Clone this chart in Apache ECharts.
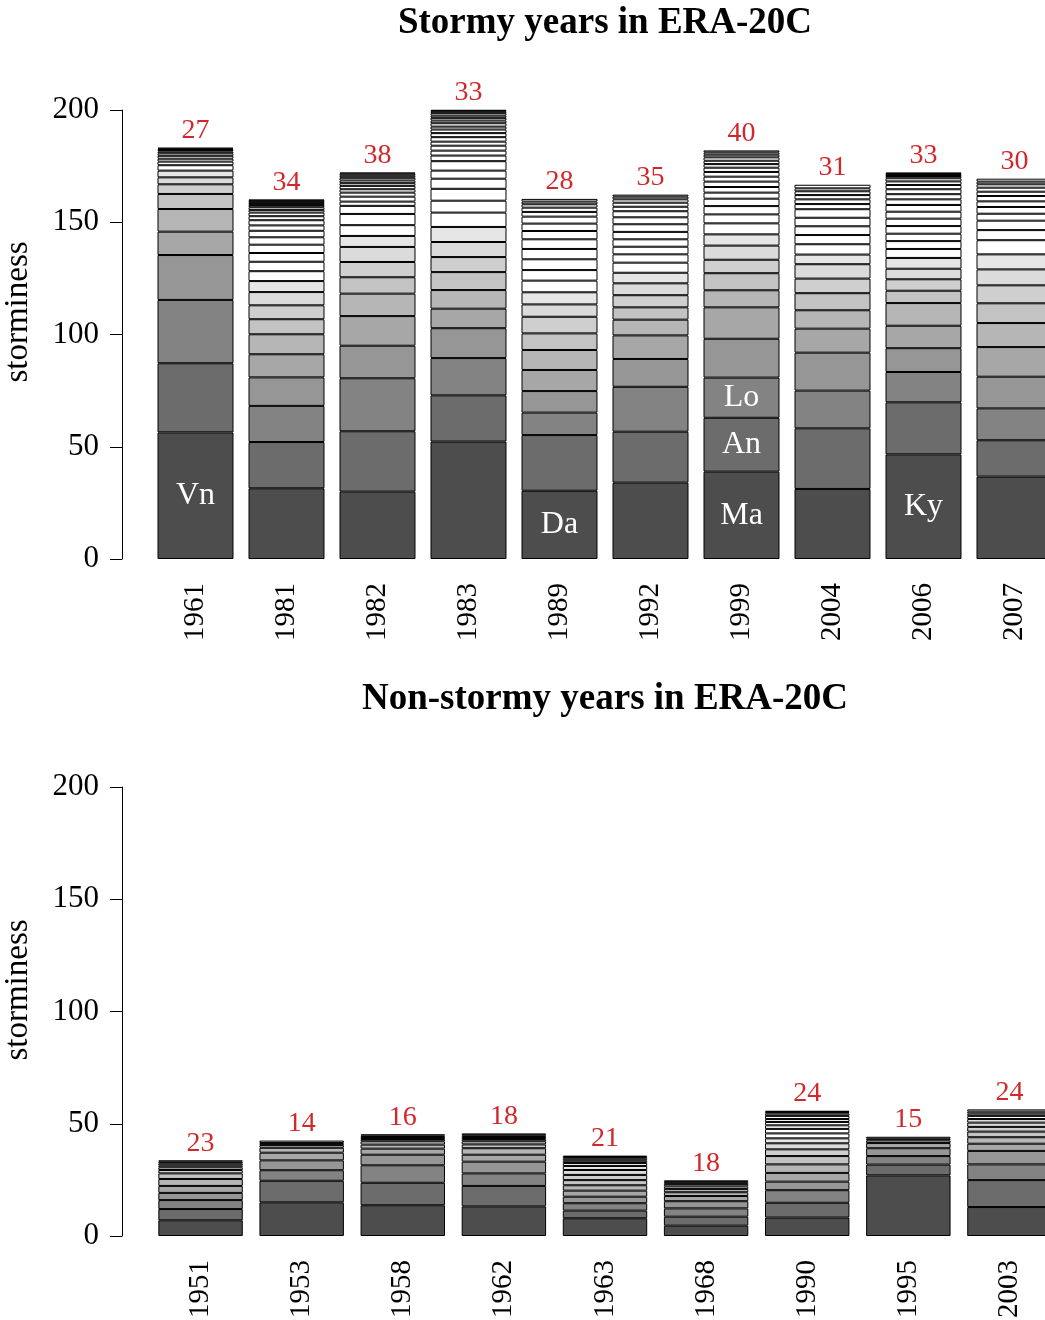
<!DOCTYPE html>
<html lang="en">
<head>
<meta charset="UTF-8" />
<title>Stormy and non-stormy years in ERA-20C</title>
<style>
  html, body { margin: 0; padding: 0; background: #fff; }
  #chart { width: 1045px; height: 1320px; }
</style>
</head>
<body>
<div id="chart"></div>
<script src="https://cdn.jsdelivr.net/npm/echarts@6/dist/echarts.min.js"></script>
<script>
  // years shown in each panel
  const stormyYears = ['1961', '1981', '1982', '1983', '1989', '1992', '1999', '2004', '2006', '2007'];
  const calmYears = ['1951', '1953', '1958', '1962', '1963', '1968', '1990', '1995', '2003'];

  // number of storms in each year (red numbers)
  const stormyCounts = [27, 34, 38, 33, 28, 35, 40, 31, 33, 30];
  const calmCounts = [23, 14, 16, 18, 21, 18, 24, 15, 24];

  // storminess of the storms in a year, bottom to top (one stacked segment each)
  const s1961 = [56.4, 30.8, 28.2, 20.0, 10.4, 10.1, 6.7, 4.3, 3.1, 3.0, 2.4, 1.6, 1.3, 1.3, 1.1, 0.8, 0.7, 0.55, 0.45];
  const s1981 = [31.5, 20.6, 16.1, 12.7, 10.3, 8.9, 6.7, 6.2, 5.9, 4.9, 4.4, 4.2, 3.9, 3.7, 3.3, 2.9, 2.4, 2.3, 1.8, 1.6, 1.2, 1.2, 1.0, 0.9, 0.9, 0.7];
  const s1982 = [30.0, 26.9, 23.6, 14.5, 13.2, 10.0, 7.3, 6.8, 6.7, 4.9, 4.8, 5.0, 3.6, 1.9, 2.2, 1.8, 1.5, 1.5, 1.2, 1.2, 1.2, 0.9, 0.9, 0.6];
  const s1983 = [52.3, 20.6, 16.6, 13.3, 8.7, 8.3, 8.0, 6.7, 6.7, 6.7, 6.4, 5.3, 5.3, 4.5, 3.6, 4.2, 2.5, 2.2, 2.2, 1.8, 2.0, 1.8, 1.6, 1.3, 1.5, 1.2, 1.2, 1.0, 1.1, 0.9, 0.6];
  const s1989 = [30.4, 24.8, 10.0, 9.6, 9.4, 8.9, 7.4, 7.4, 5.5, 5.4, 5.2, 4.7, 4.8, 4.6, 4.3, 3.7, 3.3, 3.1, 2.1, 1.9, 1.5, 1.2, 1.2];
  const s1992 = [34.0, 22.7, 20.0, 12.4, 10.5, 7.0, 5.5, 5.4, 5.3, 4.7, 4.5, 3.7, 3.4, 3.3, 3.3, 3.4, 3.1, 2.7, 2.0, 1.8, 1.5, 1.2, 0.9];
  const s1999 = [38.9, 24.0, 17.9, 17.3, 14.0, 7.6, 7.6, 6.0, 6.3, 5.0, 4.9, 4.0, 3.7, 3.3, 2.7, 2.5, 2.4, 2.2, 2.1, 1.9, 1.6, 1.5, 1.5, 1.2, 1.0, 0.9];
  const s2004 = [31.2, 27.0, 16.8, 16.9, 10.7, 8.2, 7.6, 6.5, 6.4, 4.3, 4.6, 4.1, 3.9, 3.8, 3.8, 2.3, 2.1, 1.9, 1.7, 1.3, 1.6];
  const s2006 = [46.6, 23.2, 13.5, 10.6, 10.0, 10.1, 5.5, 5.1, 4.7, 4.8, 4.0, 3.5, 3.3, 3.4, 3.3, 3.1, 3.0, 2.5, 2.3, 2.2, 1.9, 1.6, 1.4, 1.0, 0.9, 0.7];
  const s2007 = [36.7, 16.2, 14.2, 14.1, 13.2, 10.7, 8.8, 8.0, 7.1, 6.7, 6.3, 4.5, 4.2, 3.1, 3.0, 2.5, 2.4, 1.9, 1.8, 1.5, 1.2, 1.3];

  const s1951 = [7.0, 5.0, 4.0, 3.2, 3.1, 3.1, 2.5, 1.5, 1.2, 0.9, 0.9, 0.7, 0.6];
  const s1953 = [15.0, 9.6, 4.7, 4.4, 3.4, 2.2, 1.2, 0.9, 1.1];
  const s1958 = [13.7, 10.0, 7.8, 4.7, 2.7, 1.8, 1.5, 1.0, 0.9, 0.6, 0.6];
  const s1962 = [13.2, 9.1, 5.6, 5.2, 3.1, 2.9, 1.7, 1.4, 1.0, 0.9, 0.8, 0.8];
  const s1963 = [7.9, 3.4, 3.3, 2.9, 2.7, 2.4, 2.3, 2.3, 2.2, 1.8, 1.3, 1.0, 0.9, 0.8, 0.6];
  const s1968 = [4.6, 4.0, 3.7, 3.2, 2.3, 1.7, 1.4, 1.2, 1.1, 0.9, 0.7];
  const s1990 = [8.2, 6.6, 5.6, 3.8, 3.9, 3.8, 3.7, 3.0, 2.7, 2.2, 2.2, 2.0, 1.6, 1.5, 1.3, 1.4, 1.0, 0.7, 0.6];
  const s1995 = [27.0, 4.8, 3.8, 3.5, 2.3, 1.2, 0.7, 0.9];
  const s2003 = [12.9, 12.0, 7.0, 6.0, 3.2, 2.9, 2.5, 2.1, 1.9, 1.6, 1.4, 1.0, 0.9, 1.0];

  const stormySegs = [s1961, s1981, s1982, s1983, s1989, s1992, s1999, s2004, s2006, s2007];
  const calmSegs = [s1951, s1953, s1958, s1962, s1963, s1968, s1990, s1995, s2003];

  // named storms written inside their segment
  const nameYears = ['1961', '1989', '1999', '1999', '1999', '2006'];
  const nameRanks = [0, 0, 0, 1, 2, 0];
  const nameLabels = ['Vn', 'Da', 'Ma', 'An', 'Lo', 'Ky'];

  const yTicks = [0, 50, 100, 150, 200];

  // grey ramp for the ten largest storms, white above
  const greys = ['#4d4d4d', '#6c6c6c', '#838383', '#969696', '#a7a7a7', '#b6b6b6', '#c3c3c3', '#cfcfcf', '#dbdbdb', '#e6e6e6'];

  const serif = "'Liberation Serif', 'Times New Roman', serif";
  const red = '#d0282b';

  function panelSeries(years, segs, counts, idx) {
    const maxN = Math.max(...segs.map(s => s.length));
    const out = [];
    for (let r = 0; r < maxN; r++) {
      const data = segs.map((s, i) => {
        if (r >= s.length) return '-';
        const item = { value: s[r] };
        if (r === s.length - 1) {
          item.label = {
            show: true, position: 'top', distance: 3,
            formatter: String(counts[i]),
            color: red, fontSize: 28, fontFamily: serif
          };
        }
        for (let k = 0; k < nameYears.length; k++) {
          if (nameYears[k] === years[i] && nameRanks[k] === r) {
            item.label = {
              show: true, position: 'inside',
              formatter: nameLabels[k],
              color: '#fff', fontSize: 32, fontFamily: serif
            };
          }
        }
        return item;
      });
      out.push({
        type: 'bar',
        stack: 'p' + idx,
        xAxisIndex: idx,
        yAxisIndex: idx,
        barCategoryGap: '16.5%',
        itemStyle: { color: r < greys.length ? greys[r] : '#ffffff', borderColor: '#000', borderWidth: 1 },
        emphasis: { disabled: true },
        data: data
      });
    }
    return out;
  }

  function xAxisFor(years, idx) {
    return {
      type: 'category', gridIndex: idx, data: years,
      axisLine: { show: false }, axisTick: { show: false },
      axisLabel: { rotate: 90, margin: 24, fontSize: 29, color: '#000', fontFamily: serif }
    };
  }

  function yAxisFor(idx) {
    return {
      type: 'value', gridIndex: idx, min: yTicks[0], max: yTicks[yTicks.length - 1], interval: 50,
      offset: 28,
      axisLine: { show: true, lineStyle: { color: '#000', width: 1 } },
      axisTick: { show: true, length: 12, lineStyle: { color: '#000' } },
      axisLabel: { margin: 23, fontSize: 31, color: '#000', fontFamily: serif },
      splitLine: { show: false }
    };
  }

  const chart = echarts.init(document.getElementById('chart'), null, { renderer: 'canvas' });

  chart.setOption({
    animation: false,
    backgroundColor: '#fff',
    title: [
      { text: 'Stormy years in ERA-20C', left: 600, top: 0, textAlign: 'center',
        textStyle: { fontFamily: serif, fontWeight: 'bold', fontSize: 37, color: '#000' } },
      { text: 'Non-stormy years in ERA-20C', left: 600, top: 676, textAlign: 'center',
        textStyle: { fontFamily: serif, fontWeight: 'bold', fontSize: 37, color: '#000' } }
    ],
    graphic: [
      { type: 'text', x: 18, y: 312, rotation: Math.PI / 2,
        style: { text: 'storminess', font: '33px ' + serif, fill: '#000', align: 'center', verticalAlign: 'middle' } },
      { type: 'text', x: 18, y: 990, rotation: Math.PI / 2,
        style: { text: 'storminess', font: '33px ' + serif, fill: '#000', align: 'center', verticalAlign: 'middle' } }
    ],
    grid: [
      { left: 150, top: 110, width: 910, height: 449, outerBoundsMode: 'none' },
      { left: 150, top: 787, width: 910, height: 449, outerBoundsMode: 'none' }
    ],
    xAxis: [xAxisFor(stormyYears, 0), xAxisFor(calmYears, 1)],
    yAxis: [yAxisFor(0), yAxisFor(1)],
    series: panelSeries(stormyYears, stormySegs, stormyCounts, 0)
      .concat(panelSeries(calmYears, calmSegs, calmCounts, 1))
  });
</script>
</body>
</html>
